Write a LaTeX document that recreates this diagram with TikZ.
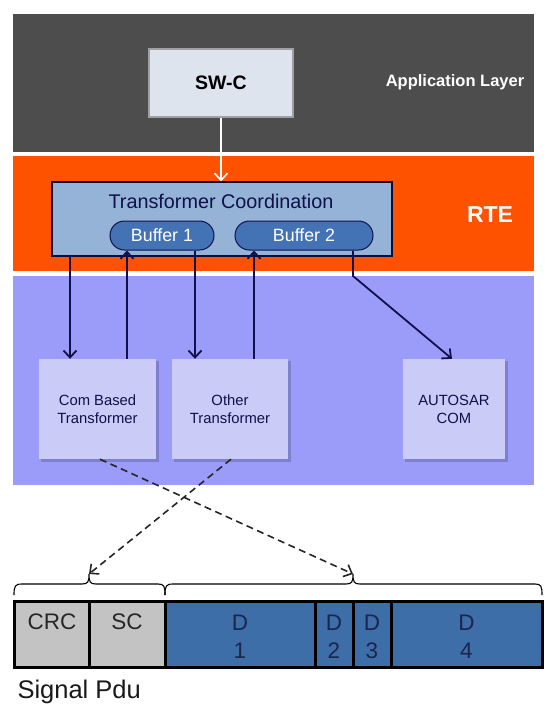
\documentclass[tikz,border=0pt]{standalone}
\usepackage{fontspec}
\setmainfont{Liberation Sans}
\usetikzlibrary{arrows.meta}
\definecolor{darkband}{HTML}{4D4D4D}
\definecolor{orangeband}{HTML}{FF5200}
\definecolor{lavband}{HTML}{9B9BFA}
\definecolor{lavbox}{HTML}{CBCBF8}
\definecolor{lavshadow}{HTML}{7F7FD0}
\definecolor{swcfill}{HTML}{DDE4EE}
\definecolor{swcdraw}{HTML}{A0A0A0}
\definecolor{tcfill}{HTML}{95B3D7}
\definecolor{buffill}{HTML}{4373B4}
\definecolor{navy}{HTML}{10104A}
\definecolor{dfill}{HTML}{3D6EA7}
\definecolor{dtext}{HTML}{1A2550}
\definecolor{greyfill}{HTML}{C3C3C3}
\tikzset{
  band/.style={fill=#1, draw=none},
  tfbox/.style={fill=lavbox, draw=none, minimum width=#1, minimum height=100pt, inner sep=0pt, align=center, font=\fontsize{14.8}{18}\selectfont, text=navy},
  buffbox/.style={fill=buffill, draw=navy, line width=1pt, rounded corners=14.5pt, minimum height=29pt, inner sep=0pt, text=white, font=\fontsize{17.8}{20}\selectfont},
  arr/.style={draw=navy, line width=1.8pt, -{Straight Barb[length=7pt,width=13pt,line width=1.8pt]}},
  dasharr/.style={draw=black!85, line width=1.6pt, dash pattern=on 7pt off 4.5pt, -{Straight Barb[length=7pt,width=13pt,line width=1.6pt]}},
  pducell/.style={fill=#1, draw=black, line width=3pt, minimum height=66pt, inner sep=0pt},
  pdutext/.style={align=center, font=\fontsize{22.5}{28}\selectfont, inner sep=0pt},
  brace/.style={draw=black, line width=1.1pt},
}
\begin{document}
\begin{tikzpicture}[x=1pt,y=-1pt]
\useasboundingbox (0,0) rectangle (549,713);
% bands
\fill[band=darkband] (13,14) rectangle (534,152);
\fill[band=orangeband] (13,156) rectangle (534,271);
\fill[band=lavband] (13,276) rectangle (534,485);
\node[text=white, font=\bfseries\fontsize{16.5}{20}\selectfont] (applabel) at (455,82) {Application Layer};
\node[text=white, font=\bfseries\fontsize{23}{26}\selectfont] (rtelabel) at (490,215) {RTE};
% SW-C
\node[fill=swcfill, draw=swcdraw, line width=2pt, minimum width=144pt, minimum height=68pt, inner sep=0pt, font=\bfseries\fontsize{19.5}{22}\selectfont] (swc) at (221,83) {SW-C};
% Transformer coordination
\node[fill=tcfill, draw=navy!80!black, line width=1.2pt, minimum width=340pt, minimum height=74pt, inner sep=0pt] (tc) at (222,219) {};
\node[text=navy, font=\fontsize{19.8}{22}\selectfont] (tctitle) at (221,201) {Transformer Coordination};
\node[buffbox, minimum width=104pt] (buf1) at (162,235.5) {Buffer 1};
\node[buffbox, minimum width=138pt] (buf2) at (304,235.5) {Buffer 2};
% SW-C to TC
\draw[draw=white, line width=1.6pt, -{Straight Barb[length=7pt,width=13pt,line width=1.6pt]}] (swc.south) -- (swc.south |- tc.north);
% transformer boxes with shadow
\fill[lavshadow] (41,361) rectangle (158.5,461.5);
\fill[lavshadow] (174,361) rectangle (290.5,461.5);
\fill[lavshadow] (405,361) rectangle (507.5,461.5);
\node[tfbox=117pt] (cbt) at (97.5,409) {Com Based\\Transformer};
\node[tfbox=116pt] (oth) at (230,409) {Other\\Transformer};
\node[tfbox=102pt] (acom) at (454,409) {AUTOSAR\\COM};
% arrows
\draw[arr] (70,0 |- tc.south) -- (70,0 |- cbt.north);
\draw[arr] (127,0 |- cbt.north) -- (127,0 |- buf1.south);
\draw[arr] (195,0 |- buf1.south) -- (195,0 |- oth.north);
\draw[arr] (254,0 |- oth.north) -- (254,0 |- buf2.south);
\coordinate (bend) at (353,276);
\draw[arr] (353,0 |- buf2.south) -- (bend) -- (452,0 |- acom.north);
% PDU
\node[pducell=greyfill, minimum width=75pt] (crc) at (51.5,634) {};
\node[pducell=greyfill, minimum width=76pt] (sc) at (127,634) {};
\node[pducell=dfill, minimum width=150pt] (d1) at (240,634) {};
\node[pducell=dfill, minimum width=38pt] (d2) at (334,634) {};
\node[pducell=dfill, minimum width=38pt] (d3) at (372,634) {};
\node[pducell=dfill, minimum width=151pt] (d4) at (466.5,634) {};
\node[pdutext, text=black!85, anchor=center] (crct) at (52,622) {CRC};
\node[pdutext, text=black!85, anchor=center] (sct) at (127,622) {SC};
\node[pdutext, text=dtext, yshift=-3pt] (d1t) at (d1) {D\\1};
\node[pdutext, text=dtext, yshift=-3pt] (d2t) at (d2) {D\\2};
\node[pdutext, text=dtext, yshift=-3pt] (d3t) at (d3) {D\\3};
\node[pdutext, text=dtext, yshift=-3pt] (d4t) at (d4) {D\\4};
\node[anchor=west, font=\fontsize{25.5}{28}\selectfont, text=black!90] (sigpdu) at (14,692) {Signal Pdu};
% braces
\coordinate (cuspL) at (89,574);
\coordinate (cuspR) at (353,574);
\draw[brace] (14,595) .. controls (14,586) and (15,584) .. (22,584) -- (82,584) .. controls (88,584) and (89,582) .. (cuspL) .. controls (89,582) and (90,584) .. (96,584) -- (158,584) .. controls (164,584) and (165,586) .. (165,595);
\draw[brace] (165,595) .. controls (165,586) and (166,584) .. (173,584) -- (346,584) .. controls (352,584) and (353,582) .. (cuspR) .. controls (353,582) and (354,584) .. (360,584) -- (535,584) .. controls (541,584) and (542,586) .. (542,595);
% dashed connectors
\draw[dasharr] (100,0 |- cbt.south) -- (cuspR);
\draw[dasharr] (231,0 |- oth.south) -- (cuspL);
\end{tikzpicture}
\end{document}
